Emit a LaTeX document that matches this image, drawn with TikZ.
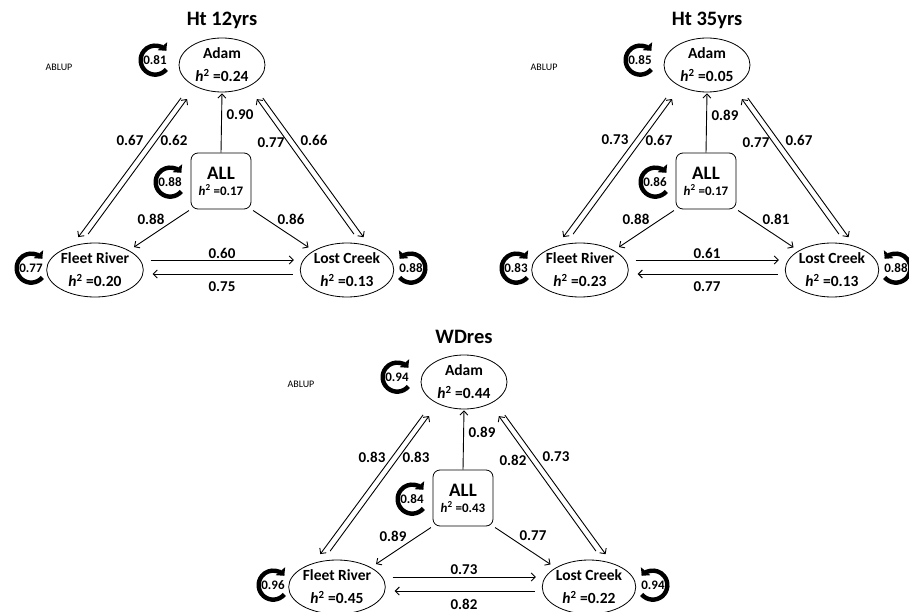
\documentclass[tikz,border=0pt]{standalone}
\usepackage{fontspec}
\setmainfont{Carlito}
\usepackage{tikz}
\usetikzlibrary{
  arrows.meta,
  shapes.geometric
}

\newcommand\hval[1]{\textit{h}\textsuperscript{2} =#1}

\tikzset{
  site/.style     = {ellipse, draw, line width = 0.8pt, minimum width = 86pt,
                     minimum height = 54pt, inner sep = 0pt, align = center,
                     font = \fontsize{15.5}{18}\selectfont\bfseries},
  pool/.style     = {rectangle, rounded corners = 7pt, draw, line width = 0.8pt,
                     minimum width = 60pt, minimum height = 56pt, inner sep = 0pt,
                     align = center, font = \bfseries},
  link/.style     = {-{Straight Barb[length=4pt,width=8pt]}, line width = 0.9pt},
  val/.style      = {font = \fontsize{15}{17}\selectfont\bfseries, inner sep = 0pt},
  selfnum/.style  = {circle, minimum size = 29pt, inner sep = 0pt,
                     font = \fontsize{13}{15}\selectfont\bfseries},
  selfloop/.style = {y = 1pt, line width = 4.4pt, -{Triangle[length=6pt,width=12pt]}},
  heading/.style  = {font = \fontsize{20.5}{24}\selectfont\bfseries},
  tag/.style      = {font = \fontsize{10}{12}\selectfont}
}

\begin{document}
\begin{tikzpicture}[x=1pt, y=-1pt]
  \useasboundingbox (0,0) rectangle (909,612);
  \clip (0,0) rectangle (909,612);

  % Ht 12yrs
  \node[heading] (t12) at (222,20) {Ht 12yrs};
  \node[tag] (b12) at (59,67) {ABLUP};
  \node[site] (adam12)  at (222,65)  {Adam\\[5pt]\hval{0.24}};
  \node[pool] (all12)   at (221,181) {{\fontsize{19}{22}\selectfont ALL}\\[4pt]{\fontsize{13}{15}\selectfont\hval{0.17}}};
  \node[site] (fleet12) at (95,270)  {Fleet River\\[5pt]\hval{0.20}};
  \node[site] (lost12)  at (347,270) {Lost Creek\\[5pt]\hval{0.13}};

  \node[selfnum] (sa12) at (155,60)  {0.81};
  \node[selfnum] (sb12) at (170,182) {0.88};
  \node[selfnum] (sf12) at (31,268)  {0.77};
  \node[selfnum] (sl12) at (411,268) {0.88};
  \draw[selfloop] (sa12.-40) arc[start angle=-40, end angle=-320, radius=14.5pt];
  \draw[selfloop] (sb12.-40) arc[start angle=-40, end angle=-320, radius=14.5pt];
  \draw[selfloop] (sf12.-40) arc[start angle=-40, end angle=-320, radius=14.5pt];
  \draw[selfloop] (sl12.220) arc[start angle=220, end angle=500, radius=14.5pt];

  \draw[link, shorten >=1pt] (all12.north) -- (adam12.south);
  \draw[link, shorten <=2pt, shorten >=6pt] (all12.south west) -- (fleet12.30);
  \draw[link, shorten <=2pt, shorten >=6pt] (all12.south east) -- (lost12.150);
  \draw[link, shorten <=17pt, shorten >=11pt] (adam12.212) -- (fleet12.134);
  \draw[link, shorten <=12pt, shorten >=15pt] (fleet12.118) -- (adam12.220);
  \draw[link, shorten <=12pt, shorten >=15pt] (lost12.62) -- (adam12.320);
  \draw[link, shorten <=17pt, shorten >=11pt] (adam12.328) -- (lost12.46);
  \draw[link, shorten <=7pt, shorten >=6pt] ([yshift=10pt]fleet12.east) -- ([yshift=10pt]lost12.west);
  \draw[link, shorten <=7pt, shorten >=9pt] ([yshift=-4pt]lost12.west) -- ([yshift=-4pt]fleet12.east);

  \node[val] (v12a) at (240,115) {0.90};
  \node[val] (v12b) at (130,140) {0.67};
  \node[val] (v12c) at (174,140) {0.62};
  \node[val] (v12d) at (271,143) {0.77};
  \node[val] (v12e) at (314,140) {0.66};
  \node[val] (v12f) at (151,219) {0.88};
  \node[val] (v12g) at (291,219) {0.86};
  \node[val] (v12h) at (222,253) {0.60};
  \node[val] (v12i) at (222,287) {0.75};

  % Ht 35yrs
  \begin{scope}[shift={(485,0)}]
  \node[heading] (t35) at (222,20) {Ht 35yrs};
  \node[tag] (b35) at (59,67) {ABLUP};
  \node[site] (adam35)  at (222,65)  {Adam\\[5pt]\hval{0.05}};
  \node[pool] (all35)   at (221,181) {{\fontsize{19}{22}\selectfont ALL}\\[4pt]{\fontsize{13}{15}\selectfont\hval{0.17}}};
  \node[site] (fleet35) at (95,270)  {Fleet River\\[5pt]\hval{0.23}};
  \node[site] (lost35)  at (347,270) {Lost Creek\\[5pt]\hval{0.13}};

  \node[selfnum] (sa35) at (155,60)  {0.85};
  \node[selfnum] (sb35) at (170,182) {0.86};
  \node[selfnum] (sf35) at (31,268)  {0.83};
  \node[selfnum] (sl35) at (411,268) {0.88};
  \draw[selfloop] (sa35.-40) arc[start angle=-40, end angle=-320, radius=14.5pt];
  \draw[selfloop] (sb35.-40) arc[start angle=-40, end angle=-320, radius=14.5pt];
  \draw[selfloop] (sf35.-40) arc[start angle=-40, end angle=-320, radius=14.5pt];
  \draw[selfloop] (sl35.220) arc[start angle=220, end angle=500, radius=14.5pt];

  \draw[link, shorten >=1pt] (all35.north) -- (adam35.south);
  \draw[link, shorten <=2pt, shorten >=6pt] (all35.south west) -- (fleet35.30);
  \draw[link, shorten <=2pt, shorten >=6pt] (all35.south east) -- (lost35.150);
  \draw[link, shorten <=17pt, shorten >=11pt] (adam35.212) -- (fleet35.134);
  \draw[link, shorten <=12pt, shorten >=15pt] (fleet35.118) -- (adam35.220);
  \draw[link, shorten <=12pt, shorten >=15pt] (lost35.62) -- (adam35.320);
  \draw[link, shorten <=17pt, shorten >=11pt] (adam35.328) -- (lost35.46);
  \draw[link, shorten <=7pt, shorten >=6pt] ([yshift=10pt]fleet35.east) -- ([yshift=10pt]lost35.west);
  \draw[link, shorten <=7pt, shorten >=9pt] ([yshift=-4pt]lost35.west) -- ([yshift=-4pt]fleet35.east);

  \node[val] (v35a) at (240,115) {0.89};
  \node[val] (v35b) at (130,140) {0.73};
  \node[val] (v35c) at (174,140) {0.67};
  \node[val] (v35d) at (271,143) {0.77};
  \node[val] (v35e) at (314,140) {0.67};
  \node[val] (v35f) at (151,219) {0.88};
  \node[val] (v35g) at (291,219) {0.81};
  \node[val] (v35h) at (222,253) {0.61};
  \node[val] (v35i) at (222,287) {0.77};
  \end{scope}

  % WDres
  \begin{scope}[shift={(242,317)}]
  \node[heading] (twd) at (222,20) {WDres};
  \node[tag] (bwd) at (59,67) {ABLUP};
  \node[site] (adamwd)  at (222,65)  {Adam\\[5pt]\hval{0.44}};
  \node[pool] (allwd)   at (221,181) {{\fontsize{19}{22}\selectfont ALL}\\[4pt]{\fontsize{13}{15}\selectfont\hval{0.43}}};
  \node[site] (fleetwd) at (95,270)  {Fleet River\\[5pt]\hval{0.45}};
  \node[site] (lostwd)  at (347,270) {Lost Creek\\[5pt]\hval{0.22}};

  \node[selfnum] (sawd) at (155,60)  {0.94};
  \node[selfnum] (sbwd) at (170,182) {0.84};
  \node[selfnum] (sfwd) at (31,268)  {0.96};
  \node[selfnum] (slwd) at (411,268) {0.94};
  \draw[selfloop] (sawd.-40) arc[start angle=-40, end angle=-320, radius=14.5pt];
  \draw[selfloop] (sbwd.-40) arc[start angle=-40, end angle=-320, radius=14.5pt];
  \draw[selfloop] (sfwd.-40) arc[start angle=-40, end angle=-320, radius=14.5pt];
  \draw[selfloop] (slwd.220) arc[start angle=220, end angle=500, radius=14.5pt];

  \draw[link, shorten >=1pt] (allwd.north) -- (adamwd.south);
  \draw[link, shorten <=2pt, shorten >=6pt] (allwd.south west) -- (fleetwd.30);
  \draw[link, shorten <=2pt, shorten >=6pt] (allwd.south east) -- (lostwd.150);
  \draw[link, shorten <=17pt, shorten >=11pt] (adamwd.212) -- (fleetwd.134);
  \draw[link, shorten <=12pt, shorten >=15pt] (fleetwd.118) -- (adamwd.220);
  \draw[link, shorten <=12pt, shorten >=15pt] (lostwd.62) -- (adamwd.320);
  \draw[link, shorten <=17pt, shorten >=11pt] (adamwd.328) -- (lostwd.46);
  \draw[link, shorten <=7pt, shorten >=6pt] ([yshift=10pt]fleetwd.east) -- ([yshift=10pt]lostwd.west);
  \draw[link, shorten <=7pt, shorten >=9pt] ([yshift=-4pt]lostwd.west) -- ([yshift=-4pt]fleetwd.east);

  \node[val] (vwda) at (240,115) {0.89};
  \node[val] (vwdb) at (130,140) {0.83};
  \node[val] (vwdc) at (174,140) {0.83};
  \node[val] (vwdd) at (271,143) {0.82};
  \node[val] (vwde) at (314,140) {0.73};
  \node[val] (vwdf) at (151,219) {0.89};
  \node[val] (vwdg) at (291,219) {0.77};
  \node[val] (vwdh) at (222,253) {0.73};
  \node[val] (vwdi) at (222,287) {0.82};
  \end{scope}
\end{tikzpicture}
\end{document}
